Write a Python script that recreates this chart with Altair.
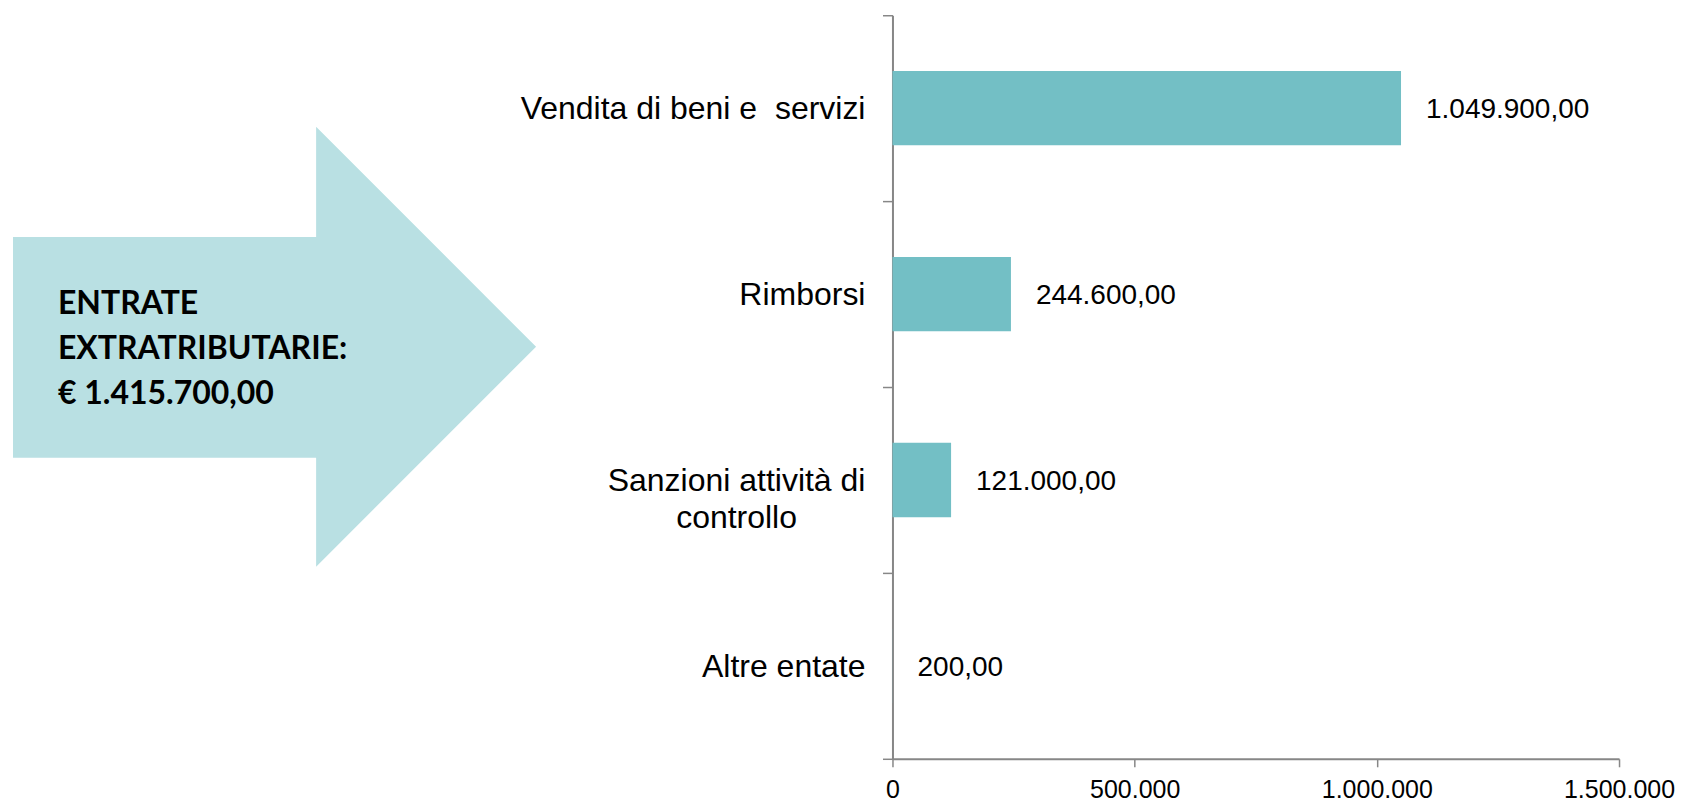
import altair as alt
import pandas as pd

# ---- data ----
categories = [
    "Vendita di beni e \u00a0servizi",
    "Rimborsi",
    "Sanzioni attività di|controllo",
    "Altre entate",
]
values = [1049900, 244600, 121000, 200]
x_ticks = [0, 500000, 1000000, 1500000]
headline = ["ENTRATE", "EXTRATRIBUTARIE:", "€ 1.415.700,00"]

df = pd.DataFrame({"categoria": categories, "valore": values})
one = pd.DataFrame({"k": [0]})

BAR = "#73BFC5"
ARROW = "#B9E0E3"
AXIS = "#878787"
FONT = "Liberation Sans"

arrow_path = (
    "M -1 -0.42 L 0.159 -0.42 L 0.159 -0.841 L 1 0 "
    "L 0.159 0.841 L 0.159 0.424 L -1 0.424 Z"
)

y_enc = alt.Y(
    "categoria:N",
    sort=categories,
    scale=alt.Scale(paddingInner=0, paddingOuter=0),
    axis=alt.Axis(
        title=None,
        grid=False,
        labels=False,
        tickBand="extent",
        tickSize=10,
        tickColor=AXIS,
        tickWidth=1.5,
        domainColor=AXIS,
        domainWidth=2,
    ),
)

x_enc = alt.X(
    "valore:Q",
    scale=alt.Scale(domain=[0, 1500000], nice=False),
    axis=alt.Axis(
        title=None,
        grid=False,
        values=x_ticks,
        labelExpr="replace(format(datum.value, ','), /,/g, '.')",
        tickSize=8,
        tickColor=AXIS,
        tickWidth=1.5,
        domainColor=AXIS,
        domainWidth=2,
        labelPadding=11,
        labelFont=FONT,
        labelFontSize=25,
        labelColor="black",
        labelFlush=False,
        labelOverlap=False,
    ),
)

y_plain = alt.Y("categoria:N", sort=categories)

arrow = alt.Chart(one).mark_point(
    shape=arrow_path, filled=True, size=273948, color=ARROW, opacity=1, strokeWidth=0
).encode(x=alt.value(-618.3), y=alt.value(331.7))

head_text = alt.Chart(one).mark_text(
    text=headline,
    align="left",
    baseline="alphabetic",
    font="Lato",
    fontWeight="bold",
    fontSize=32,
    lineHeight=45,
    color="black",
).encode(x=alt.value(-835), y=alt.value(299))

bars = alt.Chart(df).mark_bar(color=BAR, height={"band": 0.4}).encode(x=x_enc, y=y_enc)

# category labels: one-line labels right-aligned, wrapped label centred
cat_single = (
    alt.Chart(df)
    .transform_filter("indexof(datum.categoria, '|') < 0")
    .mark_text(align="right", baseline="middle", dy=1, fontSize=32, font=FONT, color="black")
    .encode(x=alt.value(-27), y=y_plain, text="categoria:N")
)
cat_multi = (
    alt.Chart(df)
    .transform_filter("indexof(datum.categoria, '|') >= 0")
    .transform_calculate(righe="split(datum.categoria, '|')")
    .mark_text(
        align="center", baseline="middle", dy=1, fontSize=32, lineHeight=37, font=FONT, color="black"
    )
    .encode(x=alt.value(-156), y=y_plain, text="righe:N")
)

labels = (
    alt.Chart(df)
    .transform_calculate(
        etichetta="replace(replace(replace(format(datum.valore, ',.2f'), /,/g, '_'), /\\./g, ','), /_/g, '.')"
    )
    .mark_text(
        align="left", baseline="middle", dx=25, dy=2, fontSize=28, font=FONT, color="black"
    )
    .encode(x="valore:Q", y=y_plain, text="etichetta:N")
)

chart = (
    alt.layer(arrow, head_text, bars, cat_single, cat_multi, labels)
    .properties(
        width=727,
        height=744,
        padding={"left": 885, "top": 7, "right": 57, "bottom": 44},
        autosize="none",
        background="white",
    )
    .configure_view(stroke=None)
)

chart.save("out.html", embed_options={"renderer": "svg", "actions": False})
